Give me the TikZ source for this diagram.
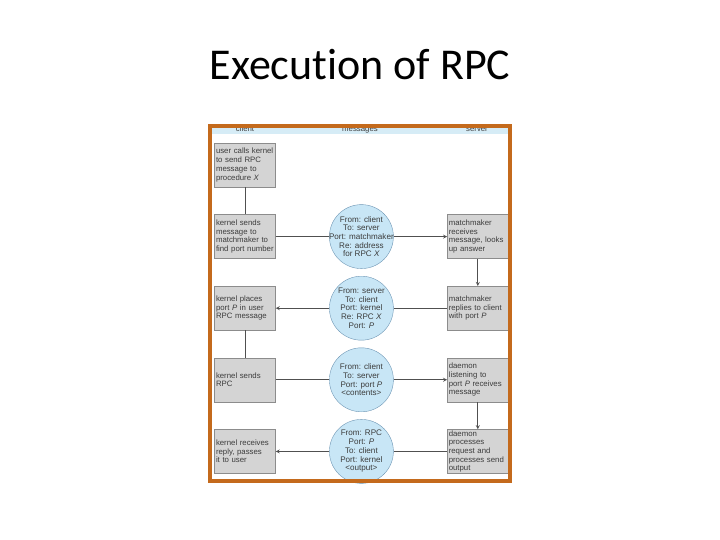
\documentclass[tikz,border=0pt]{standalone}
\usepackage{fontspec}
\usepackage{tikz}
\usetikzlibrary{positioning}
\newfontfamily\titlefont[Ligatures=NoCommon]{Carlito}
\newfontfamily\diagfont{Liberation Sans}
\newcommand{\boxfont}{\diagfont\fontsize{7.8}{8.7}\selectfont}
\newcommand{\msgfont}{\diagfont\fontsize{8.1}{8.7}\selectfont}
\definecolor{framecol}{RGB}{196,106,28}
\definecolor{boxgray}{RGB}{212,212,212}
\definecolor{boxline}{RGB}{140,140,140}
\definecolor{msgblue}{RGB}{200,230,246}
\definecolor{msgline}{RGB}{110,150,180}
\definecolor{bandblue}{RGB}{214,236,246}
\definecolor{textgray}{RGB}{60,60,60}
\definecolor{conngray}{RGB}{80,80,80}

\begin{document}
\begin{tikzpicture}[x=1pt, y=-1pt, node distance=27.2pt and 53.5pt,
    box/.style={draw=boxline, fill=boxgray, rectangle, text width=58pt, inner xsep=1.5pt, inner ysep=0pt, minimum height=44pt, align=left, font=\boxfont, text=textgray},
    msg/.style={draw=msgline, fill=msgblue, circle, minimum size=64pt, inner sep=0pt},
    msgtext/.style={align=center, font=\msgfont, text=textgray, inner sep=0pt},
    head/.style={font=\boxfont, text=textgray, anchor=base},
    conn/.style={draw=conngray, line width=0.8pt}]
    \useasboundingbox (0,0) rectangle (720,540);

    \node[font=\titlefont\fontsize{44}{52}\selectfont, anchor=base] (title) at (360,80) {Execution of RPC};

    % header band
    \fill[bandblue] (212,128) rectangle (508,134);
    \node[head] (hclient) at (245,132) {client};
    \node[head] (hmsg) at (360,132) {messages};
    \node[head] (hserver) at (477,132) {server};

    % client side
    \node[box] (u1) at (245,165) {user calls kernel\\to send RPC\\message to\\procedure \textit{X}};
    \node[box, below=of u1] (u2) {kernel sends\\message to\\matchmaker to\\find port number};
    \node[box, below=of u2] (u3) {kernel places\\port \textit{P} in user\\RPC message};
    \node[box, below=of u3] (u4) {kernel sends\\RPC};
    \node[box, below=of u4] (u5) {kernel receives\\reply, passes\\it to user};

    % messages
    \node[msg, right=of u2, label={[msgtext]center:{From: client\\To: server\\Port: matchmaker\\Re: address\\for RPC \textit{X}}}] (m1) {};
    \node[msg, right=of u3, label={[msgtext]center:{From: server\\To: client\\Port: kernel\\Re: RPC \textit{X}\\Port: \textit{P}}}] (m2) {};
    \node[msg, right=of u4, label={[msgtext]center:{From: client\\To: server\\Port: port \textit{P}\\\textless contents\textgreater}}] (m3) {};
    \node[msg, right=of u5, label={[msgtext]center:{From: RPC\\Port: \textit{P}\\To: client\\Port: kernel\\\textless output\textgreater}}] (m4) {};

    % server side
    \node[box, right=of m1] (s1) {matchmaker\\receives\\message, looks\\up answer};
    \node[box, right=of m2] (s2) {matchmaker\\replies to client\\with port \textit{P}};
    \node[box, right=of m3] (s3) {daemon\\listening to\\port \textit{P} receives\\message};
    \node[box, right=of m4] (s4) {daemon\\processes\\request and\\processes send\\output};

    \draw[conn] (u1) -- (u2);
    \draw[conn] (u3) -- (u4);
    \draw[conn, -stealth] (s1) -- (s2);
    \draw[conn, -stealth] (s3) -- (s4);

    \draw[conn] (u2) -- (m1);
    \draw[conn, -stealth] (m1) -- (s1);
    \draw[conn] (s2) -- (m2);
    \draw[conn, -stealth] (m2) -- (u3);
    \draw[conn] (u4) -- (m3);
    \draw[conn, -stealth] (m3) -- (s3);
    \draw[conn] (s4) -- (m4);
    \draw[conn, -stealth] (m4) -- (u5);

    % frame
    \draw[framecol, line width=4pt] (210,126) rectangle (510,481);
\end{tikzpicture}
\end{document}
